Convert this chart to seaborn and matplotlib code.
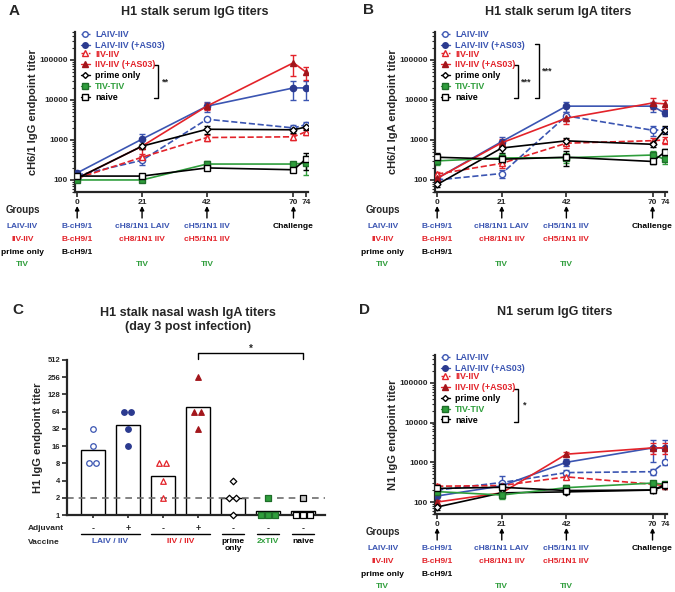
import numpy as np
import pandas as pd
import matplotlib
matplotlib.use("Agg")
import matplotlib.pyplot as plt
import matplotlib.ticker as mticker
from matplotlib.lines import Line2D
from matplotlib.transforms import offset_copy
import seaborn as sns

# ── DATA ────────────────────────────────────────────────────────────────────
DAYS = [0, 21, 42, 70, 74]
GROUPS = ["LAIV-IIV", "LAIV-IIV (+AS03)", "IIV-IIV", "IIV-IIV (+AS03)",
          "prime only", "TIV-TIV", "naive"]

# A - H1 stalk serum IgG (rows follow GROUPS)
IGG_TITER = [[130, 310, 3300, 2000, 2400],
             [150, 1050, 7000, 20000, 20000],
             [110, 370, 1150, 1200, 1600],
             [110, 700, 7000, 85000, 50000],
             [110, 700, 1850, 1800, 2100],
             [100, 100, 250, 250, 265],
             [125, 125, 200, 180, 330]]
IGG_ERR = [[20, 80, 300, 300, 400],
           [20, 350, 2000, 10000, 10000],
           [15, 80, 200, 200, 300],
           [15, 300, 1500, 45000, 18000],
           [10, 100, 400, 300, 300],
           [8, 10, 40, 30, 130],
           [10, 15, 20, 20, 150]]

# B - H1 stalk serum IgA
IGA_TITER = [[100, 145, 4000, 1750, 1800],
             [110, 910, 7000, 7000, 4700],
             [140, 260, 830, 960, 1000],
             [110, 850, 3500, 8400, 8000],
             [77, 630, 950, 780, 1800],
             [300, 355, 360, 420, 330],
             [370, 330, 370, 290, 500]]
IGA_ERR = [[15, 30, 1000, 500, 300],
           [20, 300, 2000, 2000, 800],
           [20, 60, 200, 150, 200],
           [20, 200, 1000, 2500, 2000],
           [10, 150, 200, 100, 400],
           [60, 80, 100, 120, 80],
           [100, 60, 150, 40, 80]]

# D - N1 serum IgG
N1_TITER = [[200, 310, 550, 580, 1000],
            [142, 255, 1000, 2300, 2300],
            [250, 260, 430, 280, 260],
            [100, 170, 1600, 2300, 2300],
            [75, 170, 180, 200, 250],
            [183, 150, 230, 300, 280],
            [220, 235, 195, 200, 270]]
N1_ERR = [[30, 150, 100, 100, 150],
          [30, 60, 200, 1300, 1300],
          [30, 30, 60, 40, 40],
          [15, 30, 200, 700, 700],
          [12, 20, 20, 30, 40],
          [20, 30, 40, 40, 40],
          [20, 20, 20, 20, 30]]

# C - nasal wash titers, individual animals
C_CATS = ["LAIV-IIV", "LAIV-IIV (+AS03)", "IIV-IIV", "IIV-IIV (+AS03)",
          "prime only", "TIV-TIV", "naive"]
C_VALUES = [[32, 16, 8, 8],
            [64, 64, 32, 16],
            [8, 8, 4, 2],
            [256, 64, 64, 32],
            [4, 2, 2, 1],
            [2, 1, 1, 1],
            [2, 1, 1, 1]]
C_ADJUVANT = ["-", "+", "-", "+", "-", "-", "-"]
C_VACCINE = ["LAIV / IIV", "IIV / IIV", "prime\nonly", "2xTIV", "naive"]
C_VACCINE_SPAN = [(0, 1), (2, 3), (4, 4), (5, 5), (6, 6)]

# schedule table under the time panels
ROW_LABELS = ["LAIV-IIV", "IIV-IIV", "prime only", "TIV"]
VACC_DAYS = [0, 21, 42, 70]
VACC_ENTRIES = [["B-cH9/1", "B-cH9/1", "B-cH9/1", ""],
                ["cH8/1N1 LAIV", "cH8/1N1 IIV", "", "TIV"],
                ["cH5/1N1 IIV", "cH5/1N1 IIV", "", "TIV"],
                ["Challenge", "", "", ""]]

# ── STYLE ───────────────────────────────────────────────────────────────────
BLUE, DBLUE = "#3b55b2", "#2b3a8f"
RED, DRED = "#e3232a", "#a3161c"
GREEN, DGREEN = "#2f9e3c", "#1f6e2a"

LINE_COL = [BLUE, BLUE, RED, RED, "black", GREEN, "black"]
TEXT_COL = [BLUE, BLUE, RED, RED, "black", GREEN, "black"]
FACE = ["white", DBLUE, "white", DRED, "white", GREEN, "white"]
EDGE = [BLUE, DBLUE, RED, DRED, "black", DGREEN, "black"]
MARK = ["o", "o", "^", "^", "D", "s", "s"]
MSIZE = [4.5, 4.5, 4.5, 4.5, 3.5, 4.5, 4.5]
LSTYLE = ["--", "-", "--", "-", "-", "-", "-"]
ROW_COLORS = [BLUE, RED, "black", GREEN]
ROW_OFF = [35, 47.5, 60, 72]

sns.set_style("ticks")
plt.rcParams["font.family"] = ["Liberation Sans", "DejaVu Sans"]
plt.rcParams["font.weight"] = "bold"
plt.rcParams["axes.labelweight"] = "bold"

W, H = 675, 592
fig = plt.figure(figsize=(W / 100, H / 100), dpi=100)
fig.patch.set_facecolor("white")


def px_axes(l, t, r, b):
    return fig.add_axes([l / W, 1 - b / H, (r - l) / W, (b - t) / H])


def ftext(xp, yp, s, **kw):
    fig.text(xp / W, 1 - yp / H, s, **kw)


def below(ax, off):
    return offset_copy(ax.get_xaxis_transform(), fig=fig, y=-off, units="dots")


def style_axis(ax):
    sns.despine(ax=ax)
    for side in ("left", "bottom"):
        ax.spines[side].set_linewidth(1.6)
    ax.tick_params(axis="both", which="major", labelsize=6, width=1.2,
                   length=3.5, pad=1.5)
    ax.tick_params(axis="y", which="minor", width=0.8, length=2)


def time_panel(ax, titers, errs, ylabel):
    for i in range(len(GROUPS)):
        ax.errorbar(DAYS, titers[i], yerr=errs[i], fmt="none",
                    ecolor=LINE_COL[i], elinewidth=1, capsize=2.5,
                    capthick=1, zorder=2)
        sns.lineplot(x=DAYS, y=titers[i], ax=ax, color=LINE_COL[i],
                     linestyle=LSTYLE[i], lw=1.2, marker=MARK[i],
                     markersize=MSIZE[i], mfc=FACE[i], mec=EDGE[i], mew=1,
                     zorder=3, legend=False)
    ax.set_yscale("log")
    ax.set_ylim(50, 5e5)
    ax.set_xlim(-0.7, 74.7)
    ax.set_yticks([100, 1000, 10000, 100000])
    ax.yaxis.set_major_formatter(mticker.FuncFormatter(lambda v, p: f"{int(v)}"))
    ax.yaxis.set_minor_locator(mticker.LogLocator(base=10, subs=np.arange(2, 10)))
    ax.yaxis.set_minor_formatter(mticker.NullFormatter())
    ax.set_xticks(DAYS)
    ax.set_xlabel("")
    ax.set_ylabel(ylabel, fontsize=8, labelpad=1)
    style_axis(ax)

    # legend in two blocks
    handles = [Line2D([], [], color=LINE_COL[i], ls=LSTYLE[i], lw=1,
                      marker=MARK[i], ms=MSIZE[i] - 0.5, mfc=FACE[i],
                      mec=EDGE[i], mew=1) for i in range(len(GROUPS))]
    kw = dict(loc="upper left", frameon=False, fontsize=6.4,
              handlelength=1.0, handletextpad=0.6, labelspacing=0.2,
              borderpad=0, borderaxespad=0)
    leg1 = ax.legend(handles[:2], GROUPS[:2], bbox_to_anchor=(0.025, 1.01), **kw)
    for t, c in zip(leg1.get_texts(), TEXT_COL[:2]):
        t.set_color(c)
    ax.add_artist(leg1)
    leg2 = ax.legend(handles[2:], GROUPS[2:], bbox_to_anchor=(0.025, 0.89), **kw)
    for t, c in zip(leg2.get_texts(), TEXT_COL[2:]):
        t.set_color(c)

    # schedule table
    lx = -17.7
    ax.text(lx, 0, "Groups", transform=below(ax, 18), ha="center",
            va="center", fontsize=7, clip_on=False)
    for r, lab in enumerate(ROW_LABELS):
        ax.text(lx, 0, lab, transform=below(ax, ROW_OFF[r]), ha="center",
                va="center", fontsize=6, color=ROW_COLORS[r], clip_on=False)
    for d, entries in zip(VACC_DAYS, VACC_ENTRIES):
        ax.annotate("", xy=(d, 0), xycoords=below(ax, 14), xytext=(d, 0),
                    textcoords=below(ax, 26), annotation_clip=False,
                    arrowprops=dict(arrowstyle="-|>", color="black", lw=1,
                                    mutation_scale=6, shrinkA=0, shrinkB=0))
        for r, s in enumerate(entries):
            if s:
                col = "black" if s == "Challenge" else ROW_COLORS[r]
                ax.text(d, 0, s, transform=below(ax, ROW_OFF[r]), ha="center",
                        va="center", fontsize=6, color=col, clip_on=False)


def bracket(ax, x, y0, y1, label, tx, ty):
    ax.plot([x - 0.017, x, x, x - 0.017], [y0, y0, y1, y1], color="black",
            lw=1, transform=ax.transAxes, clip_on=False)
    ax.text(tx, ty, label, transform=ax.transAxes, fontsize=6.5,
            ha="left", va="center")


# ── A ───────────────────────────────────────────────────────────────────────
axA = px_axes(75, 32, 308, 192)
time_panel(axA, IGG_TITER, IGG_ERR, "cH6/1 IgG endpoint titer")
bracket(axA, 0.356, 0.794, 0.588, "**", 0.372, 0.69)
ftext(14, 11, "A", fontsize=11, ha="center", va="center")
ftext(195, 12, "H1 stalk serum IgG titers", fontsize=9, ha="center", va="center")

# ── B ───────────────────────────────────────────────────────────────────────
axB = px_axes(435, 32, 667, 192)
time_panel(axB, IGA_TITER, IGA_ERR, "cH6/1 IgA endpoint titer")
bracket(axB, 0.356, 0.794, 0.588, "***", 0.37, 0.69)
bracket(axB, 0.448, 0.925, 0.588, "***", 0.462, 0.756)
ftext(368, 10, "B", fontsize=11, ha="center", va="center")
ftext(558, 12, "H1 stalk serum IgA titers", fontsize=9, ha="center", va="center")

# ── D ───────────────────────────────────────────────────────────────────────
axD = px_axes(435, 355, 667, 514)
time_panel(axD, N1_TITER, N1_ERR, "N1 IgG endpoint titer")
bracket(axD, 0.356, 0.785, 0.578, "*", 0.378, 0.684)
ftext(365, 310, "D", fontsize=11, ha="center", va="center")
ftext(555, 312, "N1 serum IgG titers", fontsize=9, ha="center", va="center")

# ── C ───────────────────────────────────────────────────────────────────────
axC = px_axes(67, 360, 325, 515)
dfc = pd.DataFrame([(c, v) for c, vals in zip(C_CATS, C_VALUES) for v in vals],
                   columns=["group", "titer"])
sns.barplot(data=dfc, x="group", y="titer", order=C_CATS, ax=axC,
            estimator=lambda v: np.exp(np.mean(np.log(v))), errorbar=None,
            width=0.67, color="white", edgecolor="black", linewidth=1, zorder=1)
axC.set_yscale("log", base=2)
axC.set_ylim(1, 512)
axC.set_xlim(-0.74, 6.63)
axC.axhline(2, color="#6e6e6e", ls=(0, (4, 3)), lw=1.2, zorder=2)

for i, vals in enumerate(C_VALUES):
    uniq, counts = np.unique(vals, return_counts=True)
    for v, n in zip(uniq, counts):
        xs = i + (np.arange(n) - (n - 1) / 2) * 0.2
        face = FACE[i]
        if C_CATS[i] == "naive" and v > 1:
            face = "#c8c8c8"
        axC.scatter(xs, [v] * n, marker=MARK[i], s=16 if MARK[i] != "D" else 11,
                    facecolor=face, edgecolor=EDGE[i], linewidth=0.9,
                    zorder=4, clip_on=False)

yt = [2 ** k for k in range(10)]
axC.set_yticks(yt)
axC.yaxis.set_major_formatter(mticker.FuncFormatter(lambda v, p: f"{int(v)}"))
axC.yaxis.set_minor_locator(mticker.NullLocator())
axC.set_xticks(range(len(C_CATS)))
axC.set_xticklabels(C_ADJUVANT)
axC.set_xlabel("")
axC.set_ylabel("H1 IgG endpoint titer", fontsize=8, labelpad=3)
style_axis(axC)
axC.tick_params(axis="y", labelsize=5.5)
axC.tick_params(axis="x", labelsize=6.5, length=2.5, pad=4)

for lab, (s, e) in zip(C_VACCINE, C_VACCINE_SPAN):
    half = 0.35 if e > s else 0.32
    col = BLUE if "LAIV" in lab else RED if "IIV" in lab else GREEN if "TIV" in lab else "black"
    axC.plot([s - half, e + half], [0, 0], transform=below(axC, 19),
             color="black", lw=1, clip_on=False)
    axC.text((s + e) / 2, 0, lab, transform=below(axC, 23), ha="center",
             va="top", fontsize=6, color=col, linespacing=1.1, clip_on=False)

# significance bar IIV+AS03 vs naive
axC.plot([3, 3, 6, 6], [1.005, 1.045, 1.045, 1.005], color="black", lw=1,
         transform=axC.get_xaxis_transform(), clip_on=False)
axC.text(4.5, 1.075, "*", transform=axC.get_xaxis_transform(), ha="center",
         va="center", fontsize=7)

ftext(28, 528, "Adjuvant", fontsize=6, ha="left", va="center")
ftext(28, 543, "Vaccine", fontsize=6, ha="left", va="center")
ftext(18, 310, "C", fontsize=11, ha="center", va="center")
ftext(188, 320, "H1 stalk nasal wash IgA titers\n(day 3 post infection)",
      fontsize=9, ha="center", va="center", linespacing=1.15)

fig.savefig("out.png", dpi=100, facecolor="white")
